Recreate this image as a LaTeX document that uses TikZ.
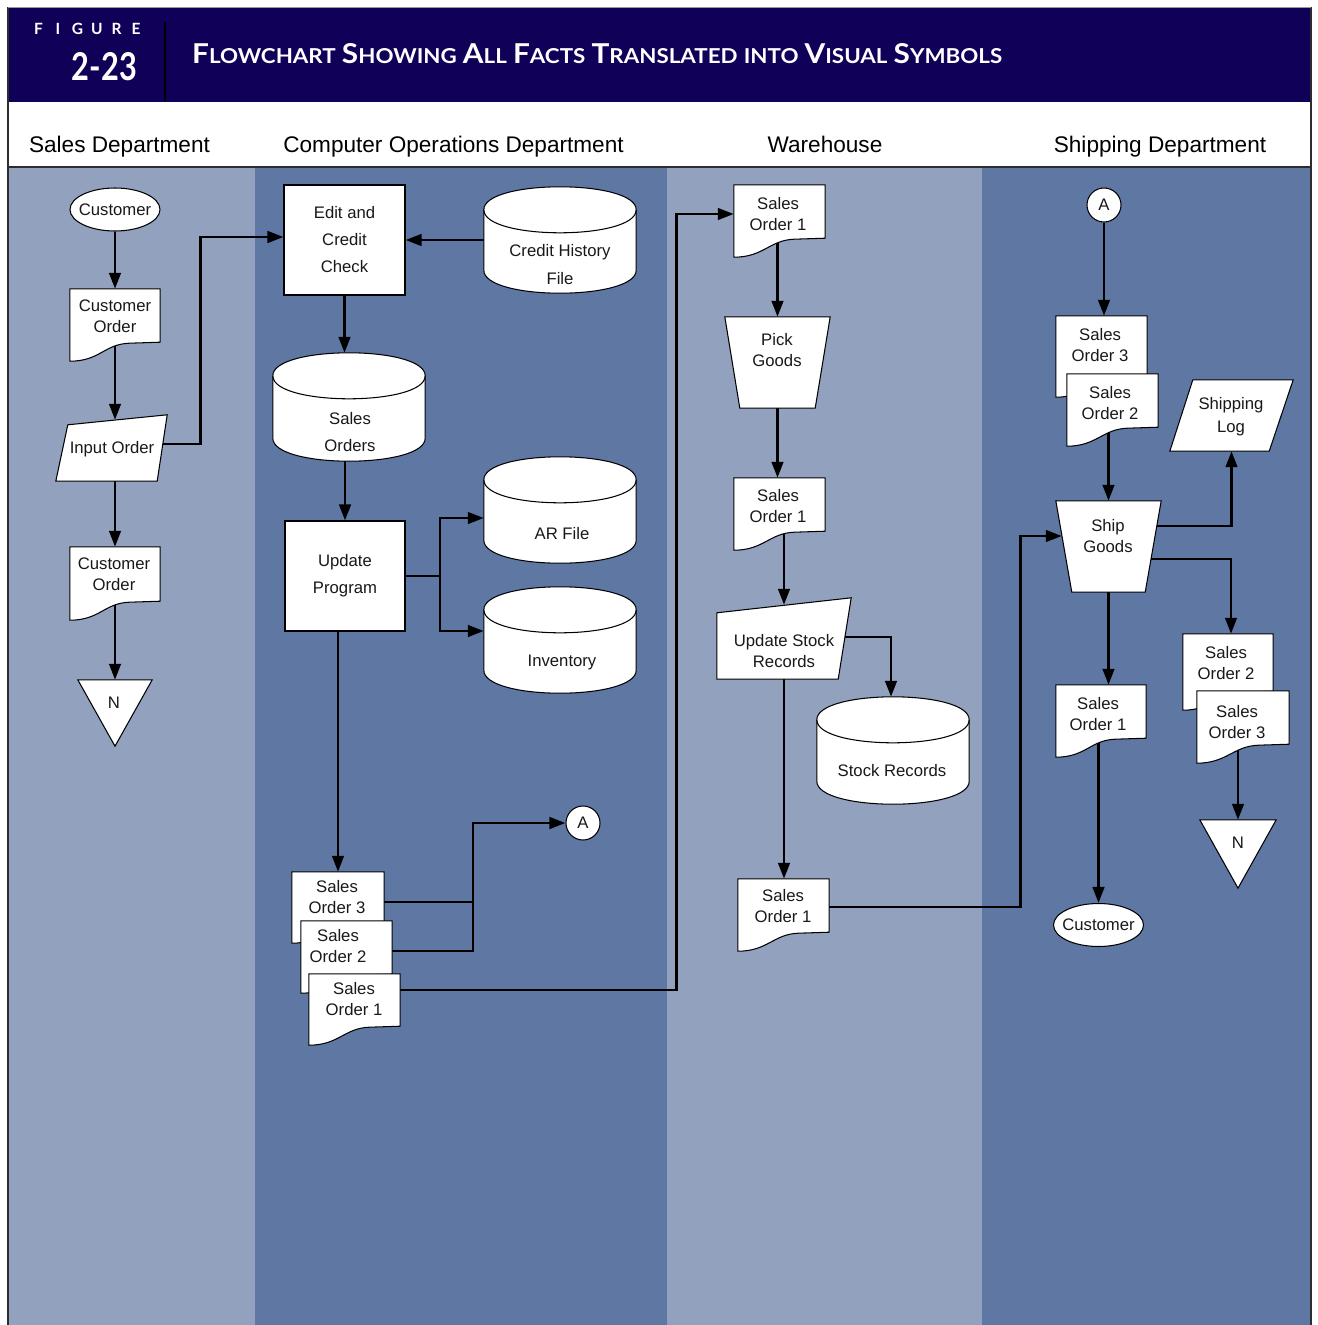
\documentclass[tikz,border=0pt]{standalone}
\usepackage{fontspec}
\usepackage{graphicx}
\setmainfont{Liberation Sans}
\newfontfamily\headfont{Lato}
\usetikzlibrary{shapes.geometric,arrows.meta,calc}

\definecolor{navy}{RGB}{17,0,88}
\definecolor{laneLight}{RGB}{146,161,189}
\definecolor{laneDark}{RGB}{95,119,163}
\definecolor{ruleGray}{RGB}{45,45,45}

\pgfdeclarelayer{lanes}
\pgfdeclarelayer{wires}
\pgfdeclarelayer{shapes}
\pgfsetlayers{lanes,wires,shapes,main}

\tikzset{
  bbox/.style={rectangle, inner sep=0pt, draw=none},
  outline/.style={draw=black, line width=1.05pt, fill=white, line join=miter},
  lbl/.style={font=\fontsize{16.7}{21}\selectfont, align=center, inner sep=0pt, text=black!90},
  lblwide/.style={lbl, font=\fontsize{16.7}{27}\selectfont},
  term/.style={ellipse, outline, minimum width=90pt, minimum height=43pt, inner sep=0pt},
  proc/.style={rectangle, outline, inner sep=0pt, lblwide},
  conn/.style={circle, outline, minimum size=34pt, inner sep=0pt, lbl},
  colhead/.style={font=\fontsize{22.6}{26}\selectfont, inner sep=0pt, anchor=base},
  wire/.style={draw=black, line width=2.9pt},
  arr/.style={wire, -{Triangle[length=16pt,width=11.5pt]}},
}

% invisible bounding node: name, x0, y0, x1, y1
\newcommand\bbnode[5]{\node[bbox, minimum width={#4-#2}, minimum height={#5-#3}] (#1) at ({(#2+#4)/2},{(#3+#5)/2}) {};}

% document symbol with wavy bottom edge
\newcommand\docshape[1]{%
  \draw[outline] (#1.north west) -- (#1.north east) -- ([yshift=19pt]#1.south east)
    -- ([shift={(-31pt,18pt)}]#1.south east)
    .. controls ([shift={(-56pt,17pt)}]#1.south east) and ([xshift=30pt]#1.south west) .. (#1.south west)
    -- cycle;}

% magnetic disk (cylinder) symbol
\newcommand\cylshape[1]{%
  \draw[outline] ([yshift=-23pt]#1.north west) -- ([yshift=23pt]#1.south west)
    .. controls ([yshift=-7.67pt]#1.south west) and ([yshift=-7.67pt]#1.south east) .. ([yshift=23pt]#1.south east)
    -- ([yshift=-23pt]#1.north east)
    .. controls ([yshift=7.67pt]#1.north east) and ([yshift=7.67pt]#1.north west) .. ([yshift=-23pt]#1.north west)
    -- cycle;
  \draw[outline, fill=none] ([yshift=-23pt]#1.north west)
    .. controls ([yshift=-53.67pt]#1.north west) and ([yshift=-53.67pt]#1.north east) .. ([yshift=-23pt]#1.north east);}

% manual operation (inverted trapezoid): name, inset
\newcommand\manop[2]{%
  \draw[outline] (#1.north west) -- (#1.north east) -- ([xshift=-#2pt]#1.south east) -- ([xshift=#2pt]#1.south west) -- cycle;}

% off-line storage (inverted triangle)
\newcommand\offline[1]{%
  \draw[outline] (#1.north west) -- (#1.north east) -- (#1.south) -- cycle;}

\newcommand\capsword[2]{{\fontsize{28}{30}\selectfont #1}{\fontsize{21}{24}\selectfont #2}}

\begin{document}
\begin{tikzpicture}[x=1pt,y=-1pt]
\useasboundingbox (0,0) rectangle (1317,1325);

% ---------- background, header and swim lanes ----------
\begin{pgfonlayer}{lanes}
  \fill[white] (0,0) rectangle (1317,1325);
  \fill[navy] (8,8) rectangle (1311,102);
  \fill[laneLight] (8,167) rectangle (255,1325);
  \fill[laneDark] (255,167) rectangle (667,1325);
  \fill[laneLight] (667,167) rectangle (982,1325);
  \fill[laneDark] (982,167) rectangle (1311,1325);
  \draw[ruleGray, line width=2.5pt] (8,167) -- (1311,167);
  \draw[ruleGray, line width=1.8pt] (8,7) -- (8,1325);
  \draw[ruleGray, line width=1.8pt] (1311,7) -- (1311,1325);
  \draw[black!40, line width=0.8pt] (8,7.5) -- (1311,7.5);
  \draw[black, line width=1.6pt] (165,22) -- (165,101);
\end{pgfonlayer}

\node[text=white, inner sep=0pt, font={\headfont\bfseries\fontsize{15.5}{15}\selectfont}] (figword) at (87.25,29)
  {\makebox[19.5pt]{F}\makebox[19.5pt]{I}\makebox[19.5pt]{G}\makebox[19.5pt]{U}\makebox[19.5pt]{R}\makebox[19.5pt]{E}};
\node[text=white, inner sep=0pt] (fignum) at (104.5,66.5) {\resizebox{65pt}{28pt}{\headfont\bfseries 2-23}};
\node[text=white, inner sep=0pt, anchor=west, font={\headfont\bfseries\fontsize{24}{26}\selectfont}] (title) at (192,54)
  {\resizebox{810pt}{20pt}{\capsword{F}{LOWCHART} \capsword{S}{HOWING} \capsword{A}{LL} \capsword{F}{ACTS} \capsword{T}{RANSLATED} {\fontsize{21}{24}\selectfont INTO} \capsword{V}{ISUAL} \capsword{S}{YMBOLS}}};

\node[colhead] (h-sales) at (119.5,152) {Sales Department};
\node[colhead] (h-comp) at (453.5,152) {Computer Operations Department};
\node[colhead] (h-ware) at (825,152) {Warehouse};
\node[colhead] (h-ship) at (1160,152) {Shipping Department};

% ---------- Sales Department ----------
\node[term] (cust) at (115,209.5) {};
\node[lbl] (cust-t) at (cust.center) {Customer};
\bbnode{cord}{70}{289}{160}{361}
\bbnode{inp}{56}{415}{167}{481}
\bbnode{cord2}{70}{547}{160}{620}
\bbnode{n1}{78}{680}{152}{746}

% ---------- Computer Operations Department ----------
\node[proc, minimum width=121pt, minimum height=110pt] (edit) at (344.5,240) {Edit and\\Credit\\Check};
\bbnode{crh}{484}{187}{636}{293}
\bbnode{sodb}{273}{353}{425}{461}
\node[proc, minimum width=120pt, minimum height=110pt] (upd) at (345,576) {Update\\Program};
\bbnode{ar}{484}{457}{636}{563}
\bbnode{inv}{484}{587}{636}{693}
\bbnode{so3c}{292}{872}{384}{943}
\bbnode{so2c}{301}{921}{392}{993}
\bbnode{so1c}{309}{974}{400}{1045}
\node[conn] (acon) at (583,823) {A};

% ---------- Warehouse ----------
\bbnode{wso1}{734}{185}{825}{257}
\bbnode{pick}{725}{317}{830}{408}
\bbnode{wso1b}{734}{478}{825}{550}
\bbnode{ustock}{717}{598}{851}{679}
\bbnode{srec}{817}{697}{969}{804}
\bbnode{wso1c}{738}{879}{829}{951}

% ---------- Shipping Department ----------
\node[conn] (acon2) at (1104,205) {A};
\bbnode{sso3}{1056}{316}{1147}{397}
\bbnode{sso2}{1067}{374}{1158}{446}
\bbnode{slog}{1170}{380}{1293}{451}
\bbnode{ship}{1056}{501}{1161}{592}
\bbnode{sso1}{1056}{685}{1146}{757}
\node[term] (cust2) at (1098.5,925) {};
\node[lbl] (cust2-t) at (cust2.center) {Customer};
\bbnode{sso2b}{1183}{634}{1273}{710}
\bbnode{sso3b}{1197}{691}{1289}{763}
\bbnode{n2}{1200}{820}{1276}{888}

% ---------- symbol outlines ----------
\begin{pgfonlayer}{shapes}
  \docshape{cord}
  \draw[outline] ([shift={(12pt,-10pt)}]inp.north west) -- (inp.north east)
    -- ([xshift=-10pt]inp.south east) -- (inp.south west) -- cycle;
  \docshape{cord2}
  \offline{n1}

  \cylshape{crh}
  \cylshape{sodb}
  \cylshape{ar}
  \cylshape{inv}
  \docshape{so3c}
  \docshape{so2c}
  \docshape{so1c}

  \docshape{wso1}
  \manop{pick}{15}
  \docshape{wso1b}
  \draw[outline] ([yshift=-15pt]ustock.north west) -- (ustock.north east)
    -- ([xshift=-13pt]ustock.south east) -- (ustock.south west) -- cycle;
  \cylshape{srec}
  \docshape{wso1c}

  \docshape{sso3}
  \docshape{sso2}
  \draw[outline] ([xshift=23pt]slog.north west) -- (slog.north east)
    -- ([xshift=-24pt]slog.south east) -- (slog.south west) -- cycle;
  \manop{ship}{16}
  \docshape{sso1}
  \docshape{sso2b}
  \docshape{sso3b}
  \offline{n2}
\end{pgfonlayer}

% ---------- symbol texts ----------
\node[lbl] (cord-t) at (115,316.5) {Customer\\Order};
\node[lbl] (inp-t) at (112,449) {Input Order};
\node[lbl] (cord2-t) at (114,574.5) {Customer\\Order};
\node[lbl] (n1-t) at (114,703) {N};

\node[lblwide, font=\fontsize{16.7}{28}\selectfont] (crh-t) at (560,265) {Credit History\\File};
\node[lblwide] (sodb-t) at (350,432.5) {Sales\\Orders};
\node[lbl] (ar-t) at (562,534) {AR File};
\node[lbl] (inv-t) at (562,662) {Inventory};
\node[lbl] (so3c-t) at (337,897) {Sales\\Order 3};
\node[lbl] (so2c-t) at (338,946.5) {Sales\\Order 2};
\node[lbl] (so1c-t) at (354,999) {Sales\\Order 1};

\node[lbl] (wso1-t) at (778,214.5) {Sales\\Order 1};
\node[lbl] (pick-t) at (777,350.5) {Pick\\Goods};
\node[lbl] (wso1b-t) at (778,506.5) {Sales\\Order 1};
\node[lbl] (ustock-t) at (784,651) {Update Stock\\Records};
\node[lbl] (srec-t) at (892,771) {Stock Records};
\node[lbl] (wso1c-t) at (783,906) {Sales\\Order 1};

\node[lbl] (sso3-t) at (1100,345.5) {Sales\\Order 3};
\node[lbl] (sso2-t) at (1110,403.5) {Sales\\Order 2};
\node[lbl, font=\fontsize{16.7}{23}\selectfont] (slog-t) at (1231,416.5) {Shipping\\Log};
\node[lbl] (ship-t) at (1108,536.5) {Ship\\Goods};
\node[lbl] (sso1-t) at (1098,714) {Sales\\Order 1};
\node[lbl] (sso2b-t) at (1226,663) {Sales\\Order 2};
\node[lbl] (sso3b-t) at (1237,722) {Sales\\Order 3};
\node[lbl] (n2-t) at (1238,843) {N};

% ---------- flow lines ----------
\begin{pgfonlayer}{wires}
  % Sales Department
  \draw[arr] (cust.south) -- (cust.south |- cord.north);
  \draw[arr] (cord.center) -- ($(cord.center |- inp.north)+(0,5)$);
  \draw[arr] (inp.center -| cord2.north) -- (cord2.north);
  \draw[arr] (cord2.center -| n1.north) -- (n1.north);
  \draw[arr] ([yshift=4pt]inp.center) -| ([xshift=-83pt,yshift=3pt]edit.west) -- ([yshift=3pt]edit.west);

  % Computer Operations Department
  \draw[arr] (crh.west |- edit.east) -- (edit.east);
  \draw[arr] (edit.south) -- (edit.south |- sodb.north);
  \draw[arr] (sodb.center -| upd.north) -- (upd.north);
  \coordinate (jUpd) at (440,576);
  \draw[wire] (upd.east) -- (jUpd);
  \draw[arr] (jUpd) |- ([yshift=-8pt]ar.west);
  \draw[arr] (jUpd) |- ([yshift=9pt]inv.west);
  \draw[arr] (upd.south -| so3c.north) -- (so3c.north);
  \coordinate (jA) at (473,902);
  \draw[wire] ([yshift=6pt]so2c.east) -| (jA);
  \draw[arr] ([yshift=5.5pt]so3c.east) -- (jA) |- (acon.west);
  \draw[arr] ([yshift=19.5pt]so1c.east) -| ([xshift=-57pt,yshift=7pt]wso1.west) -- ([yshift=7pt]wso1.west);

  % Warehouse
  \draw[arr] (wso1.center -| pick.north) -- (pick.north);
  \draw[arr] (pick.center) -- (pick.center |- wso1b.north);
  \draw[arr] (wso1b.center -| ustock.north) -- ([yshift=-7pt]ustock.north);
  \draw[arr] ([yshift=1.5pt]ustock.center) -| ([xshift=-2pt]srec.north);
  \draw[arr] (ustock.center) -- (ustock.center |- wso1c.north);
  \draw[arr] ([yshift=8pt]wso1c.east) -| ([xshift=-35pt,yshift=10.5pt]ship.west) -- ([xshift=6pt,yshift=10.5pt]ship.west);

  % Shipping Department
  \draw[arr] (acon2.south) -- (acon2.south |- sso3.north);
  \draw[arr] (sso2.center -| ship.north) -- (ship.north);
  \draw[arr] ([yshift=20.5pt]ship.center) -| (slog.south);
  \draw[arr] ([yshift=-12.5pt]ship.center) -| ([xshift=3pt]sso2b.north);
  \draw[arr] (ship.center) -- (ship.center |- sso1.north);
  \draw[arr] (sso1.center -| cust2.north) -- (cust2.north);
  \draw[arr] (sso3b.center -| n2.north) -- (n2.north);
\end{pgfonlayer}
\end{tikzpicture}
\end{document}
